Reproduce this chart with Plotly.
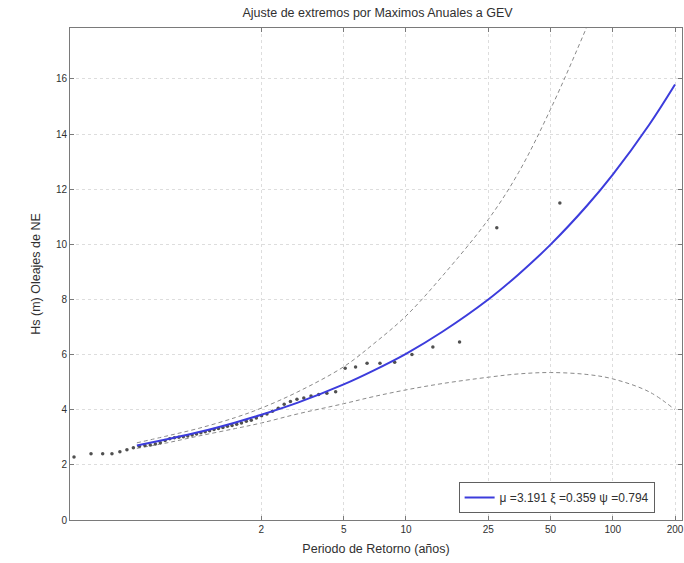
import plotly.graph_objects as go

# Return periods (años) at which the fitted curve / bands are read
T_fit = [0.5, 0.7, 1, 1.5, 2, 3, 5, 7, 10, 15, 25, 35, 50, 75, 100, 150, 200]
hs_fit = [2.70, 2.93, 3.19, 3.54, 3.82, 4.26, 4.92, 5.43, 6.03, 6.83, 8.00, 8.91,
          9.99, 11.40, 12.53, 14.34, 15.80]
hs_upper = [2.80, 3.05, 3.33, 3.72, 4.06, 4.65, 5.56, 6.40, 7.40, 8.85, 10.9, 12.6,
            14.9, 17.9, 20.2, 24.0, 27.0]
hs_lower = [2.60, 2.80, 3.05, 3.32, 3.52, 3.85, 4.22, 4.48, 4.72, 4.95, 5.18, 5.30,
            5.35, 5.28, 5.12, 4.65, 4.00]

# Annual maxima (empirical points)
T_obs = [0.2484, 0.3001, 0.3417, 0.3789, 0.4139, 0.4477, 0.4809, 0.5139, 0.5470,
         0.5805, 0.6144, 0.6492, 0.6848, 0.7213, 0.7591, 0.7982, 0.8388, 0.8811,
         0.9252, 0.9712, 1.0196, 1.0703, 1.1238, 1.1802, 1.2400, 1.3033, 1.3708,
         1.4427, 1.5196, 1.6020, 1.6909, 1.7869, 1.8910, 2.0040, 2.1277, 2.2634,
         2.4131, 2.5787, 2.7637, 2.9718, 3.2072, 3.4761, 3.7852, 4.1459, 4.5725,
         5.0840, 5.7081, 6.4872, 7.4888, 8.8240, 10.692, 13.494, 18.163, 27.496,
         55.497]
hs_obs = [2.29, 2.40, 2.40, 2.40, 2.48, 2.55, 2.62, 2.68, 2.70, 2.72, 2.76, 2.80,
          2.88, 2.95, 2.98, 3.00, 3.02, 3.05, 3.08, 3.12, 3.17, 3.20, 3.24, 3.28,
          3.32, 3.36, 3.40, 3.43, 3.47, 3.52, 3.58, 3.62, 3.70, 3.78, 3.85, 3.95,
          4.05, 4.20, 4.30, 4.38, 4.43, 4.50, 4.55, 4.60, 4.65, 5.51, 5.55, 5.69,
          5.69, 5.72, 6.00, 6.28, 6.46, 10.6, 11.5]

x_ticks = [2, 5, 10, 25, 50, 100, 200]
y_ticks = [0, 2, 4, 6, 8, 10, 12, 14, 16]

FONT = "Liberation Sans, Arial, sans-serif"

fig = go.Figure()
fig.add_trace(go.Scatter(x=T_fit, y=hs_upper, mode="lines", line_shape="spline",
                         line=dict(color="#8a8a8a", width=1, dash="4px,3px"),
                         showlegend=False, hoverinfo="skip"))
fig.add_trace(go.Scatter(x=T_fit, y=hs_lower, mode="lines", line_shape="spline",
                         line=dict(color="#8a8a8a", width=1, dash="4px,3px"),
                         showlegend=False, hoverinfo="skip"))
fig.add_trace(go.Scatter(x=T_obs, y=hs_obs, mode="markers",
                         marker=dict(color="#505050", size=3.5),
                         showlegend=False))
fig.add_trace(go.Scatter(x=T_fit, y=hs_fit, mode="lines", line_shape="spline",
                         line=dict(color="#3c3cdc", width=2),
                         name="\u03bc =3.191 \u03be =0.359 \u03c8 =0.794"))

axis_common = dict(showline=True, linecolor="#7a7a7a", linewidth=1, mirror="allticks",
                   ticks="inside", ticklen=4, tickcolor="#7a7a7a",
                   showgrid=True, gridcolor="#dddddd", griddash="dot", gridwidth=1,
                   zeroline=False, ticklabeloverflow="allow",
                   tickfont=dict(size=10, color="#303030", family=FONT))

fig.update_xaxes(type="log", range=[-0.6243, 2.3348], tickvals=x_ticks,
                 ticktext=[str(v) for v in x_ticks],
                 title=dict(text="Periodo de Retorno (años)", standoff=10,
                            font=dict(size=12.5, color="#303030", family=FONT)),
                 **axis_common)
fig.update_yaxes(range=[0, 17.85], tickvals=y_ticks,
                 title=dict(text="Hs (m) Oleajes de NE", standoff=12,
                            font=dict(size=12.5, color="#303030", family=FONT)),
                 **axis_common)

fig.update_layout(
    width=684, height=563,
    margin=dict(l=70, r=0, t=28, b=43),
    paper_bgcolor="white", plot_bgcolor="white",
    title=dict(text="Ajuste de extremos por Maximos Anuales a GEV",
               x=0.552, xanchor="center", y=0.978, yanchor="middle",
               font=dict(size=12.5, color="#303030", family=FONT)),
    legend=dict(x=0.635, xanchor="left", y=0.014, yanchor="bottom",
                bgcolor="white", bordercolor="#606060", borderwidth=1,
                font=dict(size=12, color="#303030", family=FONT)),
    showlegend=True,
)

fig.write_html("out.html")
